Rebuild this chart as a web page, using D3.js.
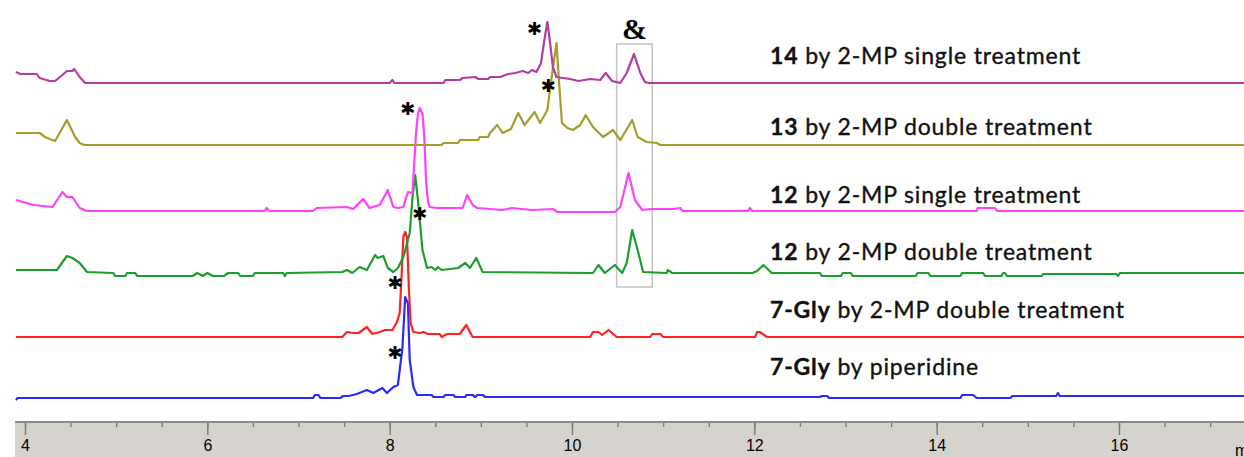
<!DOCTYPE html>
<html>
<head>
<meta charset="utf-8" />
<title>HPLC traces</title>
<style>
html, body {
    margin: 0px;
    padding: 0px;
    background: #fff;
}
svg { display: block; }
.label {
    font-family: Lato, "Open Sans", sans-serif;
    font-size: 23px;
    letter-spacing: 0.85px;
    fill: #111;
    stroke: #111;
    stroke-width: 0.35px;
}
.label .num { font-weight: bold; }
.axis text {
    font-family: "Liberation Sans", Arial, sans-serif;
    font-size: 16px;
    fill: #000;
}
.trace {
    fill: none;
    stroke-width: 2.2;
    stroke-linejoin: round;
}
</style>
</head>
<body>
<div id="chart"></div>
<script src="https://cdnjs.cloudflare.com/ajax/libs/d3/7.8.5/d3.min.js"></script>
<script>
// retention time (min), signal above each trace's own baseline
var cmpd14Single = [[3.90,11],[3.95,9],[4.13,9],[4.16,5],[4.27,2],[4.33,2],[4.41,8],[4.46,12],[4.52,12],[4.54,14],[4.60,6],[4.66,0],[8.00,0],[8.03,3],[8.05,0],[8.59,0],[8.61,3],[8.77,3],[8.80,5],[8.94,6],[8.97,4],[9.08,4],[9.10,6],[9.21,6],[9.30,9],[9.38,10],[9.46,12],[9.52,10],[9.56,13],[9.61,11],[9.66,20],[9.70,45],[9.73,61],[9.76,40],[9.79,16],[9.83,6],[9.90,5],[9.98,4],[10.07,2],[10.20,4],[10.31,3],[10.37,10],[10.44,2],[10.53,0],[10.60,10],[10.68,29],[10.75,10],[10.80,1],[10.84,0],[17.40,0]]

var cmpd13Double = [[3.90,12],[4.16,12],[4.22,8],[4.27,6],[4.33,4],[4.38,12],[4.46,25],[4.55,8],[4.60,2],[4.65,0],[8.57,0],[8.59,2],[8.75,2],[8.77,5],[8.97,5],[8.99,8],[9.08,8],[9.10,12],[9.18,20],[9.24,12],[9.33,16],[9.41,32],[9.48,20],[9.59,33],[9.65,22],[9.73,35],[9.78,70],[9.83,102],[9.86,60],[9.89,22],[9.95,17],[10.01,15],[10.09,20],[10.15,30],[10.23,18],[10.34,8],[10.45,15],[10.53,5],[10.66,25],[10.72,8],[10.82,3],[10.93,2],[10.97,0],[17.40,0]]

var cmpd12Single = [[3.90,12],[4.02,9],[4.09,7],[4.30,5],[4.41,20],[4.46,15],[4.52,15],[4.60,4],[4.68,1],[6.63,1],[6.65,4],[6.68,1],[7.16,1],[7.20,4],[7.53,5],[7.60,3],[7.71,13],[7.78,4],[7.89,7],[7.98,22],[8.04,5],[8.09,4],[8.15,5],[8.20,20],[8.25,19],[8.27,50],[8.29,80],[8.31,98],[8.33,104],[8.36,98],[8.38,75],[8.40,30],[8.42,10],[8.44,5],[8.52,4],[8.80,4],[8.85,17],[8.91,7],[8.96,4],[9.24,2],[9.34,4],[9.56,2],[9.79,3],[9.84,0],[10.47,0],[10.53,5],[10.62,39],[10.69,12],[10.77,2],[10.86,3],[11.11,3],[11.19,4],[11.21,1],[11.93,1],[11.95,4],[11.98,1],[14.44,1],[14.45,4],[14.64,4],[14.66,1],[17.40,1]]

var cmpd12Double = [[3.90,3],[4.35,3],[4.46,17],[4.52,15],[4.60,10],[4.68,1],[4.97,0],[4.99,-3],[5.10,-3],[5.12,0],[5.21,0],[5.23,-3],[5.84,-3],[5.89,0],[5.95,-3],[6.00,0],[6.06,-3],[6.18,-3],[6.23,0],[6.34,0],[6.36,-3],[6.50,-3],[6.52,0],[6.83,0],[6.85,-3],[6.87,0],[7.48,1],[7.53,3],[7.59,0],[7.67,6],[7.75,3],[7.84,18],[7.87,15],[7.93,17],[7.98,5],[8.04,1],[8.09,5],[8.15,16],[8.22,40],[8.25,75],[8.28,98],[8.31,73],[8.36,23],[8.41,5],[8.46,6],[8.50,3],[8.53,6],[8.57,3],[8.75,5],[8.83,10],[8.88,5],[8.95,15],[9.02,1],[10.23,0],[10.29,8],[10.36,0],[10.47,8],[10.55,0],[10.60,10],[10.66,43],[10.72,23],[10.78,1],[11.04,0],[11.05,3],[11.10,0],[11.98,0],[12.03,2],[12.10,8],[12.19,0],[12.72,0],[12.74,-3],[12.95,-3],[12.97,0],[13.06,0],[13.08,-3],[13.77,-3],[13.79,0],[13.91,0],[13.93,-3],[14.26,-3],[14.28,0],[14.51,0],[14.53,-3],[14.71,-3],[14.73,0],[14.75,0],[14.77,-3],[15.15,-3],[15.17,-1],[15.97,-1],[15.99,-3],[16.01,0],[17.40,0]]

var gly7Double = [[3.90,0],[7.48,0],[7.53,5],[7.60,4],[7.66,4],[7.75,10],[7.81,3],[7.89,5],[7.95,7],[8.03,7],[8.08,15],[8.11,24],[8.13,60],[8.15,100],[8.17,105],[8.19,100],[8.21,50],[8.23,14],[8.26,5],[8.33,4],[8.37,5],[8.42,3],[8.55,3],[8.57,0],[8.63,3],[8.77,3],[8.84,12],[8.91,0],[10.20,0],[10.23,5],[10.29,5],[10.33,2],[10.40,7],[10.49,0],[10.86,0],[10.88,3],[10.97,3],[11.00,0],[12.01,0],[12.03,5],[12.06,5],[12.14,0],[17.40,0]]

var gly7Piperidine = [[3.90,-2],[3.92,0],[7.16,0],[7.18,3],[7.22,3],[7.24,0],[7.46,0],[7.49,2],[7.55,2],[7.64,4],[7.75,8],[7.82,5],[7.92,10],[7.97,5],[8.04,11],[8.09,13],[8.14,50],[8.17,101],[8.20,95],[8.22,38],[8.26,11],[8.30,3],[8.46,3],[8.48,1],[8.59,1],[8.61,3],[8.70,3],[8.72,1],[8.83,1],[8.84,3],[8.91,3],[8.94,1],[8.96,3],[9.02,3],[9.05,1],[12.72,1],[12.74,2],[12.80,2],[12.82,0],[14.26,0],[14.28,3],[14.40,3],[14.44,0],[14.81,0],[14.83,2],[15.31,2],[15.33,5],[15.35,2],[17.40,2]]

var series = [cmpd14Single, cmpd13Double, cmpd12Single, cmpd12Double, gly7Double, gly7Piperidine]
var offsets = [338, 276, 209, 148, 84, 23]
var colors = ["#b63ca2", "#a39e2a", "#ff40ff", "#1c9e2c", "#ff2222", "#2a2aff"]
var labelNums = ["14", "13", "12", "12", "7-Gly", "7-Gly"]
var labelTexts = [" by 2-MP single treatment", " by 2-MP double treatment", " by 2-MP single treatment", " by 2-MP double treatment", " by 2-MP double treatment", " by piperidine"]

// asterisks: [series index, time, height above baseline]
var stars = [[0, 9.59, 55], [1, 9.74, 60], [2, 8.20, 104], [3, 8.33, 60], [4, 8.06, 55], [5, 8.06, 46]]
var boxTimes = [10.49, 10.88]
var boxLevels = [134, 377]
var majorTicks = [4, 6, 8, 10, 12, 14, 16]

!(function(){
    "use strict"

    var width = 1244, height = 457
    var axisTop = 421

    var svg = d3.select("#chart").append("svg")
        .attr("width", width).attr("height", height)

    var x = d3.scaleLinear().domain([4, 16]).range([25, 1119])
    var y = d3.scaleLinear().domain([0, axisTop]).range([axisTop, 0])

    // highlight box
    svg.append("rect")
        .attr("x", x(boxTimes[0])).attr("y", y(boxLevels[1]))
        .attr("width", x(boxTimes[1]) - x(boxTimes[0]))
        .attr("height", y(boxLevels[0]) - y(boxLevels[1]))
        .attr("fill", "none").attr("stroke", "#c4c4c4").attr("stroke-width", 1.5)

    svg.append("text")
        .attr("x", x((boxTimes[0] + boxTimes[1]) / 2)).attr("y", 39)
        .attr("text-anchor", "middle")
        .style("font-family", "'Liberation Serif', serif")
        .style("font-weight", "bold").style("font-size", "30px")
        .text("&")

    // traces, bottom first
    var order = d3.range(series.length).reverse()
    order.forEach(function(i) {
        var line = d3.line()
            .x(function(d) { return x(d[0]) })
            .y(function(d) { return y(offsets[i] + d[1]) })
        svg.append("path")
            .attr("class", "trace")
            .attr("stroke", colors[i])
            .attr("d", line(series[i]))
    })

    // labels
    var labels = svg.selectAll(".label").data(labelNums).enter()
        .append("text").attr("class", "label")
        .attr("x", 770)
        .attr("y", function(d, i) { return y(offsets[i]) - [19, 10, 9, 13, 19, 23][i] })
    labels.append("tspan").attr("class", "num").text(function(d) { return d })
    labels.append("tspan").text(function(d, i) { return labelTexts[i] })

    // asterisks
    svg.selectAll(".star").data(stars).enter()
        .append("text").attr("class", "star")
        .attr("x", function(d) { return x(d[1]) })
        .attr("y", function(d) { return y(offsets[d[0]] + d[2]) + 7 })
        .attr("text-anchor", "middle")
        .style("font-family", "'DejaVu Sans', sans-serif")
        .style("font-size", "18px")
        .text("\u2731")

    // time axis
    var ax = svg.append("g").attr("class", "axis")
    ax.append("rect")
        .attr("x", 15).attr("y", axisTop)
        .attr("width", width - 15).attr("height", height - axisTop)
        .attr("fill", "#d6d3ce")

    ax.append("g").attr("transform", "translate(0," + axisTop + ")")
        .call(d3.axisBottom(x).tickValues(d3.range(4, 17.5, 0.5)).tickSize(6).tickFormat(""))
    ax.append("g").attr("transform", "translate(0," + axisTop + ")")
        .call(d3.axisBottom(x).tickValues(majorTicks).tickSize(14).tickPadding(5).tickFormat(d3.format("d")))

    ax.selectAll(".domain").remove()
    ax.selectAll(".tick line").attr("stroke", "#7a7a7a").attr("stroke-width", 1.4)
    ax.selectAll(".tick text").attr("fill", "#000").style("font-size", "16px")
    ax.append("line")
        .attr("x1", 15).attr("x2", width)
        .attr("y1", axisTop + 1).attr("y2", axisTop + 1)
        .attr("stroke", "#8a8a8a").attr("stroke-width", 2)

    ax.append("text")
        .attr("x", 1235).attr("y", 456)
        .text("min")
}());
</script>
</body>
</html>
